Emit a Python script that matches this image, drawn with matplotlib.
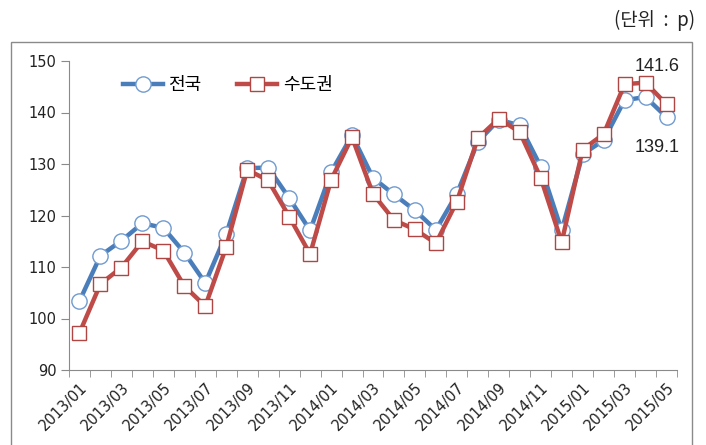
import numpy as np
import matplotlib.pyplot as plt
from matplotlib.patches import Rectangle

# monthly index, 2013/01 - 2015/05
months = ["2013/01", "2013/02", "2013/03", "2013/04", "2013/05", "2013/06",
          "2013/07", "2013/08", "2013/09", "2013/10", "2013/11", "2013/12",
          "2014/01", "2014/02", "2014/03", "2014/04", "2014/05", "2014/06",
          "2014/07", "2014/08", "2014/09", "2014/10", "2014/11", "2014/12",
          "2015/01", "2015/02", "2015/03", "2015/04", "2015/05"]
nation = [103.4, 112.2, 115.1, 118.5, 117.6, 112.8, 106.9, 116.4, 129.2, 129.3,
          123.4, 117.1, 128.4, 135.6, 127.3, 124.1, 121.0, 117.2, 124.2, 134.3,
          138.6, 137.5, 129.5, 117.1, 131.9, 134.6, 142.4, 143.0, 139.1]
capital = [97.2, 106.7, 109.9, 115.0, 113.2, 106.3, 102.4, 113.9, 128.9, 126.8,
           119.8, 112.5, 126.9, 135.2, 124.2, 119.1, 117.3, 114.6, 122.7, 135.0,
           138.8, 136.2, 127.3, 114.8, 132.8, 135.8, 145.5, 145.8, 141.6]
yticks = [90, 100, 110, 120, 130, 140, 150]

KR = ["Noto Sans CJK KR", "DejaVu Sans"]
BLUE = "#4A7EBB"
RED = "#BE4B48"

fig = plt.figure(figsize=(7.06, 4.45), dpi=100)
ax = fig.add_axes([69 / 706, 1 - 370 / 445, 608 / 706, 309 / 445])

# outer chart frame (bottom edge runs off the picture)
fig.patches.append(Rectangle((11 / 706, -0.05), 681 / 706, 1 - 41.5 / 445 + 0.05,
                             transform=fig.transFigure, fill=False,
                             edgecolor="#8a8a8a", linewidth=1.0))

x = np.arange(len(months))
ax.plot(x, nation, color=BLUE, lw=3.2, marker="o", ms=11,
        mfc="white", mec="#6f9bd0", mew=1.0, label="전국", zorder=3)
ax.plot(x, capital, color=RED, lw=3.2, marker="s", ms=10,
        mfc="white", mec="#b04643", mew=1.0, label="수도권", zorder=4)

ax.set_xlim(-0.5, len(months) - 0.5)
ax.set_ylim(90, 150)
ax.set_yticks(yticks)
ax.set_xticks(x[::2])
ax.set_xticklabels(months[::2], rotation=45, ha="right", rotation_mode="anchor")
ax.set_xticks(np.arange(-0.5, len(months), 1), minor=True)

ax.tick_params(axis="x", which="major", length=0, pad=7, labelsize=10.5, labelcolor="#222222")
ax.tick_params(axis="x", which="minor", length=5, direction="out", color="#8a8a8a")
ax.tick_params(axis="y", length=6, direction="out", color="#8a8a8a", pad=3,
               labelsize=10.5, labelcolor="#222222")

for s in ["top", "right"]:
    ax.spines[s].set_visible(False)
for s in ["left", "bottom"]:
    ax.spines[s].set_color("#8a8a8a")

leg = ax.legend(loc="center left", bbox_to_anchor=(123 / 706, 1 - 85 / 445),
                bbox_transform=fig.transFigure, ncol=2, frameon=False,
                handlelength=2.2, handletextpad=0.3, columnspacing=2.0,
                borderpad=0, borderaxespad=0, prop={"family": KR, "size": 13})

ax.annotate("141.6", xy=(x[-1], capital[-1]), xytext=(-7, 27),
            textcoords="offset points", ha="center", va="center",
            fontsize=13, family="Liberation Sans", color="#222222")
ax.annotate("139.1", xy=(x[-1], nation[-1]), xytext=(-7, -22),
            textcoords="offset points", ha="center", va="center",
            fontsize=13, family="Liberation Sans", color="#222222")

fig.text(695 / 706, 1 - 20 / 445, "(단위  :  p)", ha="right", va="center",
         family=KR, fontsize=13.5, color="#222222")

fig.savefig("out.png", dpi=100)
